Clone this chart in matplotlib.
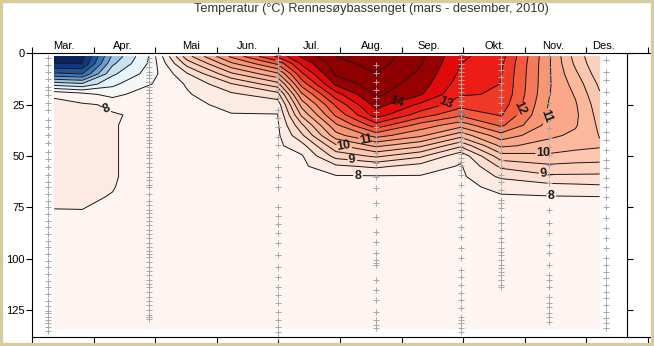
import numpy as np
import matplotlib
matplotlib.use("Agg")
import matplotlib.pyplot as plt
import matplotlib.dates as mdates
from matplotlib.colors import LinearSegmentedColormap, Normalize
from matplotlib.patches import Rectangle

plt.rcParams['font.family'] = ['Liberation Sans', 'DejaVu Sans']

# temperature section: one profile per column date
grid_dates = ['2010-03-12', '2010-03-26', '2010-04-10', '2010-04-28', '2010-05-17',
              '2010-06-08', '2010-07-01', '2010-07-13', '2010-07-30', '2010-08-19',
              '2010-09-10', '2010-09-30', '2010-10-20', '2010-11-13', '2010-11-26',
              '2010-12-08']
depths = [1.5, 5, 10, 15, 20, 25, 30, 35, 40, 45, 50, 55, 60, 65, 70, 80, 100, 134]
profiles = [
    [3.2, 3.5, 4.6, 6.3, 7.95, 8.08, 8.1, 8.1, 8.1, 8.1, 8.1, 8.1, 8.08, 8.06, 8.04, 7.97, 7.9, 7.85],
    [3.3, 3.5, 4.5, 6.1, 7.7, 8.05, 8.08, 8.08, 8.08, 8.08, 8.08, 8.08, 8.06, 8.05, 8.03, 7.98, 7.9, 7.85],
    [5.6, 5.9, 6.4, 6.9, 7.3, 7.95, 8.02, 8.02, 8.02, 8.02, 8.02, 8.02, 8.02, 8.01, 7.99, 7.96, 7.9, 7.85],
    [7.0, 7.05, 7.2, 7.45, 7.85, 7.98, 7.95, 7.9, 7.9, 7.9, 7.9, 7.9, 7.9, 7.89, 7.88, 7.86, 7.83, 7.8],
    [9.8, 9.2, 8.45, 8.05, 7.95, 7.9, 7.88, 7.88, 7.88, 7.88, 7.88, 7.88, 7.88, 7.88, 7.87, 7.86, 7.83, 7.8],
    [11.6, 10.9, 9.9, 8.95, 8.4, 8.1, 7.98, 7.92, 7.9, 7.9, 7.9, 7.9, 7.9, 7.89, 7.88, 7.87, 7.84, 7.8],
    [13.1, 12.1, 10.9, 9.8, 8.8, 8.2, 7.98, 7.93, 7.9, 7.9, 7.9, 7.9, 7.9, 7.89, 7.88, 7.87, 7.84, 7.8],
    [14.1, 13.6, 12.9, 12.2, 11.4, 10.7, 10.1, 9.4, 8.9, 8.3, 7.95, 7.9, 7.9, 7.9, 7.89, 7.88, 7.85, 7.8],
    [15.0, 14.8, 14.6, 14.1, 13.3, 12.6, 12.1, 11.4, 10.8, 9.9, 9.2, 8.4, 7.95, 7.9, 7.9, 7.88, 7.85, 7.8],
    [15.3, 15.2, 15.0, 14.8, 14.6, 14.2, 13.75, 12.8, 11.7, 10.6, 9.6, 8.6, 7.95, 7.9, 7.9, 7.88, 7.85, 7.8],
    [14.6, 14.55, 14.4, 14.25, 14.05, 13.4, 12.75, 11.8, 11.1, 10.1, 9.1, 8.3, 7.96, 7.9, 7.9, 7.88, 7.85, 7.8],
    [13.6, 13.5, 13.4, 13.25, 13.05, 12.7, 12.1, 11.2, 10.2, 9.1, 8.15, 7.95, 7.9, 7.9, 7.9, 7.88, 7.85, 7.8],
    [13.2, 13.1, 13.03, 12.99, 12.95, 12.8, 12.55, 12.1, 11.3, 10.6, 9.8, 9.1, 8.6, 8.1, 7.96, 7.9, 7.86, 7.8],
    [11.05, 11.05, 11.05, 11.05, 11.02, 10.95, 10.9, 10.8, 10.6, 10.3, 9.9, 9.4, 8.9, 8.3, 7.96, 7.9, 7.86, 7.8],
    [9.8, 9.9, 10.1, 10.3, 10.45, 10.55, 10.6, 10.55, 10.4, 10.15, 9.8, 9.35, 8.9, 8.35, 7.97, 7.9, 7.86, 7.8],
    [9.0, 9.05, 9.2, 9.4, 9.55, 9.7, 9.8, 9.9, 9.98, 10.05, 9.8, 9.3, 8.9, 8.4, 7.98, 7.9, 7.86, 7.8],
]

# sampling stations and their measurement depths (grey crosses)
station_dates = ['2010-03-09', '2010-04-28', '2010-07-01', '2010-08-19',
                 '2010-09-30', '2010-10-20', '2010-11-13', '2010-12-11']
station_depths = [
    [2.4, 5.7, 9, 12.7, 16.3, 17.9, 20.3, 24.3, 27.6, 32.5, 36, 39.8, 43.8, 47.9, 51.5, 55.2,
     59.2, 62.5, 65.2, 68.5, 71.7, 75, 78.2, 81.5, 84.7, 88, 91.2, 94.5, 97.7, 101, 104.2, 107.5,
     110.7, 114, 117.2, 120.4, 123, 125.3, 126.6, 128.2, 129.8, 131.5, 133.1, 135],
    [2.4, 4.1, 6.5, 9, 10.6, 12.2, 13.8, 16.3, 17.9, 19.5, 21.9, 23.6, 25.2, 27.6, 29.2, 30.8,
     32.5, 34.9, 36.5, 38.7, 40.6, 42.2, 43.8, 45.5, 47.9, 49.5, 51.1, 53.6, 55.2, 57.6, 60, 61.7,
     64.1, 65.2, 68.5, 71.7, 73.8, 76.3, 77.9, 79.9, 81.5, 83.6, 86, 88, 90.1, 92.5, 94.2, 96.1,
     97.7, 99.3, 101.5, 104.2, 105.9, 108, 110.4, 112.4, 114, 116.1, 118.5, 120.5, 122.5, 125,
     127.4, 128.5, 129.5],
    [1, 3.3, 5.7, 8.1, 11.4, 14.6, 17.9, 21.9, 27.6, 31.6, 36, 40.6, 44.6, 49.5, 55.2, 60, 65.2,
     74.7, 79, 83.3, 87.6, 92.5, 98, 103.9, 108.8, 113.6, 117.7, 121.7, 125.8, 129.8, 133, 135.5, 138],
    [5.7, 9.7, 13.8, 17.9, 21.9, 25.2, 28.4, 31.6, 35.7, 39.8, 43.8, 48.7, 53.6, 60, 65.7, 73,
     79.5, 86.9, 91.7, 97.4, 100.6, 102.2, 103, 110.4, 115.2, 120.1, 125.8, 129.8, 132.3, 133.9],
    [1, 3, 5, 7, 9, 11, 13, 15, 17, 19, 21, 23, 25, 27, 29, 31, 33, 35, 37, 39, 41, 43, 45, 47,
     49, 51, 53, 55, 57, 59, 64, 69, 73, 76.3, 79.5, 84.4, 89.3, 95, 99.8, 105.5, 108.8, 112.8,
     116.8, 120.1, 124.1, 128.2, 129.8, 131.4, 133.9, 135.5],
    [3, 5, 8.1, 11.4, 14.6, 17.9, 21.1, 24.3, 28.4, 32.5, 36.5, 40.6, 44.6, 47.9, 51.9, 55.2,
     59.2, 62.5, 66.6, 71.4, 73, 75.5, 79.5, 82.8, 86, 90, 91.7, 94.9, 96.6, 98.2, 100.6, 103,
     104.7, 106.3, 107.9, 110.4, 112.8, 113.6],
    [1.7, 6.5, 10.6, 14.6, 19.5, 24.3, 28.4, 32.5, 36.5, 41.4, 45.5, 49.5, 54.4, 59.2, 63.3, 68,
     76.3, 82.8, 87.6, 93.3, 97.4, 103, 108, 110.4, 113.6, 118.5, 121.7, 123.4, 126.6, 128.2, 130.7],
    [3.3, 9, 13, 18.7, 24.3, 28.4, 33.3, 38.2, 42.2, 47.1, 51.9, 56, 60.9, 65, 69.8, 74.7, 80.3,
     85.2, 90, 94.9, 99.8, 103, 106.3, 109.5, 112.8, 116, 119.3, 122.5, 125.8, 129, 131.4, 133.9],
]

month_starts = ['2010-03-01', '2010-04-01', '2010-05-01', '2010-06-01', '2010-07-01',
                '2010-08-01', '2010-09-01', '2010-10-01', '2010-11-01', '2010-12-01', '2011-01-01']
month_label_dates = ['2010-03-17', '2010-04-15', '2010-05-19', '2010-06-16', '2010-07-18',
                     '2010-08-17', '2010-09-14', '2010-10-17', '2010-11-15', '2010-12-10']
month_labels = ['Mar.', 'Apr.', 'Mai', 'Jun.', 'Jul.', 'Aug.', 'Sep.', 'Okt.', 'Nov.', 'Des.']

# where the isotherm numbers sit
label_spots = [('2010-04-08', 25), ('2010-08-10', 59), ('2010-11-14', 68.5),
               ('2010-08-07', 53.4), ('2010-11-10', 59), ('2010-08-03', 45.6),
               ('2010-11-10', 48.5), ('2010-08-14', 41.2), ('2010-11-12', 31),
               ('2010-10-31', 27.6), ('2010-09-23', 25), ('2010-08-30', 26)]

d2n = mdates.datestr2num
X, Y = np.meshgrid(d2n(grid_dates), depths)
T = np.array(profiles).T

anchors = [(3.0, '#061a4f'), (3.75, '#0d3a85'), (4.5, '#2a62ad'), (5.25, '#6b9fd2'),
           (6.0, '#b7d8ee'), (6.75, '#e9f5fb'), (7.5, '#fef7f5'), (8.0, '#fdf0ec'),
           (8.5, '#fde4da'), (9.0, '#fdd6c6'), (10.0, '#fcc0a6'), (11.0, '#f9a07f'),
           (11.5, '#f78a68'), (12.0, '#f56d4c'), (12.5, '#f24a32'), (13.0, '#ee2a1e'),
           (13.5, '#ea1010'), (13.75, '#e20a0a'), (14.0, '#a00000'), (14.5, '#900000'),
           (16.0, '#850000')]
vmin, vmax = 3.0, 16.0
cmap = LinearSegmentedColormap.from_list(
    'temp', [((v - vmin) / (vmax - vmin), c) for v, c in anchors])
levels = np.arange(3.0, 16.01, 0.5)
whole = [8, 9, 10, 11, 12, 13, 14]
halves = [v for v in levels if v not in whole]

fig = plt.figure(figsize=(6.54, 3.46), dpi=100)
ax = fig.add_axes([32 / 654, 1 - 337 / 346, 1 - 32 / 654, (337 - 53.3) / 346])

ax.contourf(X, Y, T, levels=levels, cmap=cmap, norm=Normalize(vmin, vmax), extend='both')
ax.contour(X, Y, T, levels=halves, colors='#1a1a1a', linewidths=0.7)
cs = ax.contour(X, Y, T, levels=whole, colors='#1a1a1a', linewidths=0.7)
spots = [(d2n(d), z) for d, z in label_spots]
lbl = ax.clabel(cs, manual=spots, inline=True, fmt='%d', fontsize=9, inline_spacing=2)
for t in lbl:
    t.set_fontweight('bold')

for d, zs in zip(station_dates, station_depths):
    ax.plot([d2n(d)] * len(zs), zs, '+', ms=4, mew=0.7, color='#a8a8a8', clip_on=False)
ax.plot(d2n('2010-09-30'), 30, 'D', ms=4, mfc='none', mec='#707070', mew=0.8)

base = d2n('2010-03-01')
ax.set_xlim(base + 1.04, base + 309)
ax.set_ylim(138.1, 0)
ax.set_yticks([0, 25, 50, 75, 100, 125])
ax.tick_params(axis='y', direction='out', length=4, width=0.8, labelsize=8, pad=1)

ax.set_xticks(d2n(month_starts))
ax.set_xticks(d2n(month_label_dates), minor=True)
ax.set_xticklabels(month_labels, minor=True)
ax.tick_params(axis='x', which='major', top=True, bottom=True, labeltop=False,
               labelbottom=False, direction='out', length=4.5, width=0.8)
ax.tick_params(axis='x', which='minor', top=True, bottom=False, labeltop=True,
               labelbottom=False, length=0, labelsize=8, pad=2)
ax.spines['right'].set_visible(False)
for s in ['left', 'top', 'bottom']:
    ax.spines[s].set_linewidth(0.8)

# separate right-hand frame line with outward ticks
axr = fig.add_axes([627 / 654, 1 - 337 / 346, 1e-4, (337 - 53.3) / 346])
axr.set_ylim(138.1, 0)
axr.set_yticks([0, 25, 50, 75, 100, 125])
axr.yaxis.tick_right()
axr.tick_params(axis='y', direction='out', length=4, width=0.8, labelright=False)
axr.set_xticks([])
for s in ['left', 'top', 'bottom']:
    axr.spines[s].set_visible(False)
axr.spines['right'].set_linewidth(0.8)
axr.patch.set_visible(False)

fig.text(371 / 654, 1 - 9 / 346, 'Temperatur (\u00b0C) Rennes\u00f8ybassenget (mars - desember, 2010)',
         ha='center', va='center', fontsize=9.2, color='#333333')

fig.patches.append(Rectangle((0, 0), 1, 1, transform=fig.transFigure, fill=False,
                             edgecolor='#d6cb9c', linewidth=4.5, zorder=10))

fig.savefig('out.png', dpi=100)
